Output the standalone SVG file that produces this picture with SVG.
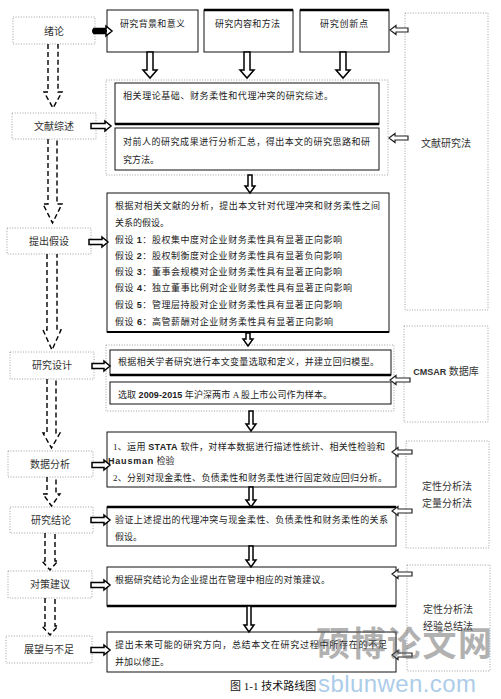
<svg xmlns="http://www.w3.org/2000/svg" width="501" height="699" viewBox="0 0 501 699">
<style>
.t{font-family:"Liberation Serif","Noto Sans CJK SC",serif;font-size:9px;fill:#222}
.n{font-family:"Liberation Serif","Noto Sans CJK SC",serif;font-size:10px;fill:#333;text-anchor:middle}
.b{font-family:"Liberation Sans","Noto Sans CJK SC",sans-serif;font-weight:bold}
.dot{fill:#fff;stroke:#888;stroke-width:0.8;stroke-dasharray:1 1.6}
.dotg{fill:none;stroke:#888;stroke-width:0.8;stroke-dasharray:1 1.6}
.box{fill:#fff;stroke:#111;stroke-width:1}
.thk{stroke:#000;stroke-width:2.6}
.dash{fill:none;stroke:#000;stroke-width:1.4;stroke-dasharray:5 3}
.ha{fill:#fff;stroke:#000;stroke-width:1.5}
.la{fill:#fff;stroke:#222;stroke-width:1.2}
</style>
<rect width="501" height="699" fill="#fff"/>

<!-- left nodes -->
<g id="n-xulun"><rect class="dot" x="13" y="17" width="82" height="27"/><text class="n" x="54" y="34.5">绪论</text></g>
<g id="n-wenxian"><rect class="dot" x="12" y="113" width="84" height="26"/><text class="n" x="54" y="129.5">文献综述</text></g>
<g id="n-jiashe"><rect class="dot" x="7" y="228" width="84" height="26"/><text class="n" x="49" y="244.5">提出假设</text></g>
<g id="n-sheji"><rect class="dot" x="10" y="352" width="84" height="27"/><text class="n" x="52" y="369">研究设计</text></g>
<g id="n-shuju"><rect class="dot" x="8" y="451" width="85" height="26"/><text class="n" x="50" y="467.5">数据分析</text></g>
<g id="n-jielun"><rect class="dot" x="10" y="507" width="83" height="26"/><text class="n" x="51" y="523.5">研究结论</text></g>
<g id="n-duice"><rect class="dot" x="8" y="571" width="84" height="27"/><text class="n" x="50" y="588">对策建议</text></g>
<g id="n-zhanwang"><rect class="dot" x="6" y="636" width="86" height="27"/><text class="n" x="49" y="653">展望与不足</text></g>

<!-- top boxes -->
<g id="top-1"><rect class="box" x="107" y="10" width="91" height="42"/><text class="t" x="120" y="27" textLength="65">研究背景和意义</text></g>
<g id="top-2"><rect class="box" x="204" y="10" width="89" height="42"/><line class="thk" x1="204" y1="10" x2="293" y2="10"/><text class="t" x="215" y="27" textLength="65">研究内容和方法</text></g>
<g id="top-3"><rect class="box" x="300" y="10" width="89" height="42"/><line class="thk" x1="300" y1="10" x2="389" y2="10"/><text class="t" x="320" y="27" textLength="48">研究创新点</text></g>

<!-- group 1 -->
<g id="grp-1">
<rect class="dotg" x="106" y="80" width="282" height="95"/>
<rect class="box" x="115" y="83" width="264" height="41"/><line class="thk" x1="115" y1="124" x2="379" y2="124"/>
<text class="t" x="123" y="99" textLength="210">相关理论基础、财务柔性和代理冲突的研究综述。</text>
<rect class="box" x="115" y="128" width="264" height="42"/>
<text class="t" x="123" y="145" textLength="247">对前人的研究成果进行分析汇总，得出本文的研究思路和研</text>
<text class="t" x="123" y="163">究方法。</text>
</g>
<g id="r-wenxian"><rect class="dotg" x="405" y="13" width="83" height="297"/><text class="n" x="446" y="147">文献研究法</text></g>

<!-- hypothesis -->
<g id="hyp">
<rect class="box" x="107" y="193" width="282" height="139"/>
<line class="thk" x1="107" y1="332" x2="389" y2="332" style="stroke-width:1.8"/>
<text class="t" x="115" y="209" textLength="265">根据对相关文献的分析，提出本文针对代理冲突和财务柔性之间</text>
<text class="t" x="115" y="226">关系的假设。</text>
<text class="t" x="115" y="243" textLength="227">假设 <tspan class="b">1</tspan>：股权集中度对企业财务柔性具有显著正向影响</text>
<text class="t" x="115" y="259" textLength="227">假设 <tspan class="b">2</tspan>：股权制衡度对企业财务柔性具有显著负向影响</text>
<text class="t" x="115" y="275" textLength="227">假设 <tspan class="b">3</tspan>：董事会规模对企业财务柔性具有显著正向影响</text>
<text class="t" x="115" y="291" textLength="237">假设 <tspan class="b">4</tspan>：独立董事比例对企业财务柔性具有显著正向影响</text>
<text class="t" x="115" y="308" textLength="227">假设 <tspan class="b">5</tspan>：管理层持股对企业财务柔性具有显著正向影响</text>
<text class="t" x="115" y="325" textLength="218">假设 <tspan class="b">6</tspan>：高管薪酬对企业财务柔性具有显著正向影响</text>
</g>

<!-- group 2 -->
<g id="grp-2">
<rect class="dotg" x="106" y="345" width="288" height="66"/>
<rect class="box" x="110" y="350" width="281" height="25"/><line class="thk" x1="110" y1="375" x2="391" y2="375"/>
<text class="t" x="118" y="365" textLength="261">根据相关学者研究进行本文变量选取和定义，并建立回归模型。</text>
<rect class="box" x="110" y="382" width="281" height="22"/>
<text class="t" x="118" y="398" textLength="214">选取 <tspan class="b">2009-2015</tspan> 年沪深两市 A 股上市公司作为样本。</text>
</g>
<g id="r-cmsar"><rect class="dotg" x="404" y="326" width="84" height="96"/><text class="n" x="446" y="375"><tspan class="b" style="font-size:9px">CMSAR</tspan> 数据库</text></g>

<!-- data analysis -->
<g id="data">
<rect class="box" x="107" y="432" width="289" height="55"/>
<text class="t" x="113" y="450" textLength="272">1、运用 <tspan class="b">STATA</tspan> 软件，对样本数据进行描述性统计、相关性检验和</text>
<text class="t" x="108" y="464"><tspan class="b" style="letter-spacing:0.8px">Hausman</tspan> 检验</text>
<text class="t" x="113" y="481" textLength="274">2、分别对现金柔性、负债柔性和财务柔性进行固定效应回归分析。</text>
</g>
<g id="r-dingxing1"><rect class="dotg" x="406" y="441" width="83" height="107"/><text class="n" x="447" y="490">定性分析法</text><text class="n" x="447" y="507">定量分析法</text></g>

<!-- conclusion -->
<g id="concl">
<rect class="box" x="107" y="507" width="289" height="39"/><line class="thk" x1="107" y1="507" x2="396" y2="507"/>
<text class="t" x="115" y="523" textLength="273">验证上述提出的代理冲突与现金柔性、负债柔性和财务柔性的关系</text>
<text class="t" x="115" y="540">假设。</text>
</g>
<g id="advice">
<rect class="box" x="107" y="567" width="289" height="39"/><line class="thk" x1="107" y1="606" x2="396" y2="606"/>
<text class="t" x="115" y="583" textLength="215">根据研究结论为企业提出在管理中相应的对策建议。</text>
</g>
<g id="r-dingxing2"><rect class="dotg" x="407" y="565" width="83" height="106"/><text class="n" x="448" y="613">定性分析法</text><text class="n" x="448" y="630">经验总结法</text></g>
<g id="outlook">
<rect class="box" x="107" y="632" width="289" height="40"/>
<text class="t" x="115" y="648" textLength="272">提出未来可能的研究方向，总结本文在研究过程中所存在的不足</text>
<text class="t" x="115" y="665">并加以修正。</text>
</g>

<!-- connectors -->
<g id="connectors">
<path class="dash" d="M48,44 V92 H44 L53,108 L62,92 H58 V44"/>
<path class="dash" d="M48,139 V204 H43 L52.5,223 L62,204 H57 V139"/>
<path class="dash" d="M47,254 V330 H43 L52,350 L61,330 H57 V254"/>
<path class="dash" d="M47,379 V433 H43 L51.5,448 L60,433 H56 V379"/>
<path class="dash" d="M47,477 V494 H43 L51.5,506 L60,494 H56 V477"/>
<path class="dash" d="M45,533 V561 H42 L50,570 L58,561 H55 V533"/>
<path class="dash" d="M45,598 V626 H42 L50,635 L58,626 H55 V598"/>
<path class="ha" d="M94,28.5 H106 V26 L112,31 L106,36 V33.5 H94 Z"/>
<rect x="92" y="28" width="15" height="6" rx="3" fill="#000"/>
<path class="ha" d="M91,123.5 H105 V121 L111,126 L105,131 V128.5 H91 Z"/>
<path class="ha" d="M89,239.5 H102 V237 L108,242 L102,247 V244.5 H89 Z"/>
<path class="ha" d="M92,363.5 H104 V361 L110,366 L104,371 V368.5 H92 Z"/>
<path class="ha" d="M92,462.5 H104 V460 L110,465 L104,470 V467.5 H92 Z"/>
<path class="ha" d="M91,517.5 H104 V515 L110,520 L104,525 V522.5 H91 Z"/>
<path class="ha" d="M91,582.5 H104 V580 L110,585 L104,590 V587.5 H91 Z"/>
<path class="ha" d="M91,647.5 H104 V645 L110,650 L104,655 V652.5 H91 Z"/>
<path class="ha" d="M147,52 V70 H143 L150,78 L157,70 H153 V52 Z"/>
<path class="ha" d="M244,52 V70 H240 L247,78 L254,70 H250 V52 Z"/>
<path class="ha" d="M340,52 V70 H336 L343,78 L350,70 H346 V52 Z"/>
<path class="ha" d="M248,175 V186 H245 L250,193 L255,186 H252 V175 Z"/>
<path class="ha" d="M246,333 V339 H243 L248,346 L253,339 H250 V333 Z"/>
<path class="ha" d="M249,411 V424 H246 L251,431 L256,424 H253 V411 Z"/>
<path class="ha" d="M249,487 V500 H246 L251,507 L256,500 H253 V487 Z"/>
<path class="ha" d="M249,546 V560 H246 L251,567 L256,560 H253 V546 Z"/>
<path class="ha" d="M247,606 V625 H244 L249,632 L254,625 H251 V606 Z"/>
<path class="la" d="M408,28 H396 V25.5 L390,30 L396,34.5 V32 H408 Z"/>
<path class="la" d="M408,136 H395 V133.5 L389,138 L395,142.5 V140 H408 Z"/>
<path class="la" d="M410,378 H396 V375.5 L390,380 L396,384.5 V382 H410 Z"/>
<path class="la" d="M412,450 H398 V447.5 L392,452 L398,456.5 V454 H412 Z"/>
<path class="la" d="M412,509 H398 V506.5 L392,511 L398,515.5 V513 H412 Z"/>
<path class="la" d="M412,572 H398 V569.5 L392,574 L398,578.5 V576 H412 Z"/>
<path class="la" d="M412,653 H398 V650.5 L392,655 L398,659.5 V657 H412 Z"/>
</g>

<!-- caption -->
<text x="230" y="690" style="font-family:'Liberation Serif','Noto Sans CJK SC',serif;font-size:11px;fill:#111">图 1-1  技术路线图</text>

<!-- watermark -->
<g id="watermark" opacity="0.5">
<text x="316" y="656" style="font-family:'Noto Sans CJK SC',sans-serif;font-size:34px;font-weight:bold;fill:#666" textLength="176">硕博论文网</text>
<text x="318" y="692" style="font-family:'Liberation Sans',sans-serif;font-size:24px;fill:#5b9bd5" textLength="158">sblunwen.com</text>
</g>
</svg>
